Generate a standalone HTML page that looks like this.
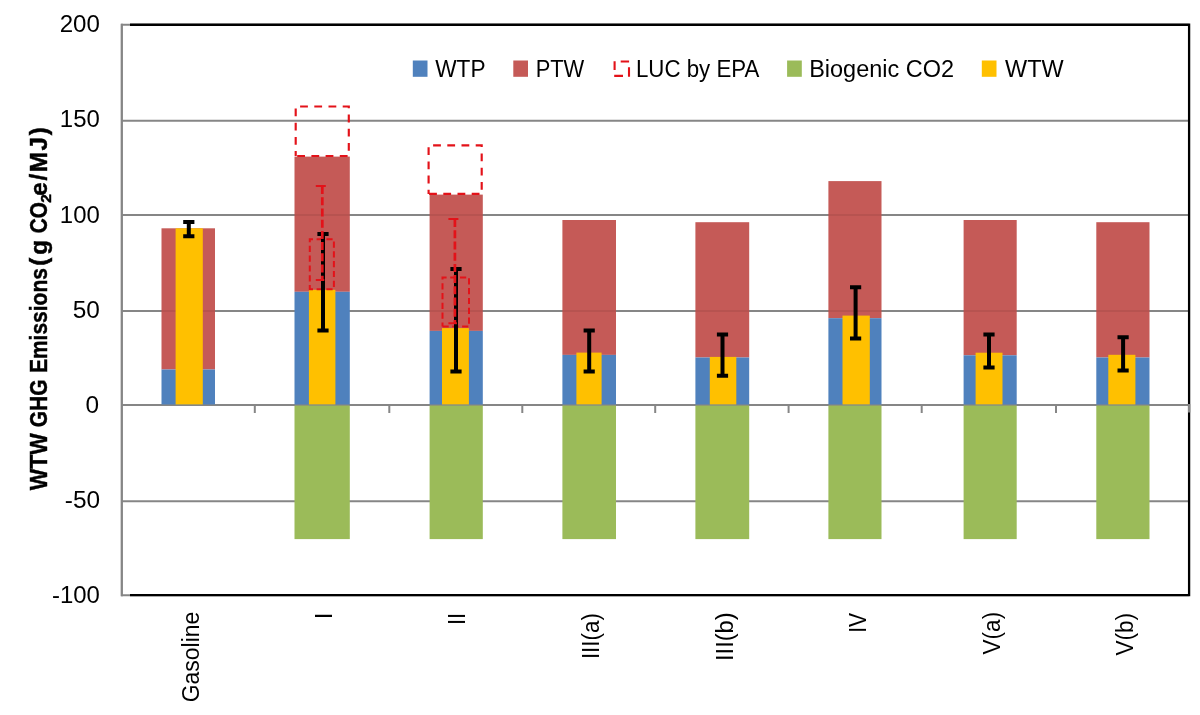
<!DOCTYPE html>
<html lang="en"><head><meta charset="utf-8"><title>WTW GHG Emissions</title>
<style>html,body{margin:0;padding:0;background:#fff;}body{width:1200px;height:715px;overflow:hidden;}svg{display:block;will-change:transform;}</style>
</head><body>
<svg width="1200" height="715" viewBox="0 0 1200 715">
<rect x="0" y="0" width="1200" height="715" fill="#ffffff"/>
<line x1="121" y1="24.75" x2="1189" y2="24.75" stroke="#868686" stroke-width="2"/>
<line x1="121" y1="120.80" x2="1189" y2="120.80" stroke="#868686" stroke-width="2"/>
<line x1="121" y1="214.90" x2="1189" y2="214.90" stroke="#868686" stroke-width="2"/>
<line x1="121" y1="311.00" x2="1189" y2="311.00" stroke="#868686" stroke-width="2"/>
<line x1="121" y1="501.20" x2="1189" y2="501.20" stroke="#868686" stroke-width="2"/>
<line x1="121" y1="595.20" x2="1189" y2="595.20" stroke="#868686" stroke-width="2"/>
<line x1="121" y1="405.00" x2="1189" y2="405.00" stroke="#868686" stroke-width="2"/>
<rect x="161.50" y="228.30" width="53.50" height="141.20" fill="#C55A57"/>
<rect x="161.50" y="369.50" width="53.50" height="34.95" fill="#4F81BD"/>
<rect x="294.50" y="156.60" width="55.30" height="135.20" fill="#C55A57"/>
<rect x="294.50" y="291.80" width="55.30" height="112.65" fill="#4F81BD"/>
<rect x="294.50" y="405.60" width="55.30" height="133.50" fill="#9BBB59"/>
<rect x="429.60" y="194.60" width="53.20" height="136.30" fill="#C55A57"/>
<rect x="429.60" y="330.90" width="53.20" height="73.55" fill="#4F81BD"/>
<rect x="429.60" y="405.60" width="53.20" height="133.50" fill="#9BBB59"/>
<rect x="562.40" y="220.00" width="53.60" height="134.90" fill="#C55A57"/>
<rect x="562.40" y="354.90" width="53.60" height="49.55" fill="#4F81BD"/>
<rect x="562.40" y="405.60" width="53.60" height="133.50" fill="#9BBB59"/>
<rect x="695.40" y="222.20" width="53.80" height="135.30" fill="#C55A57"/>
<rect x="695.40" y="357.50" width="53.80" height="46.95" fill="#4F81BD"/>
<rect x="695.40" y="405.60" width="53.80" height="133.50" fill="#9BBB59"/>
<rect x="828.40" y="181.10" width="53.10" height="137.10" fill="#C55A57"/>
<rect x="828.40" y="318.20" width="53.10" height="86.25" fill="#4F81BD"/>
<rect x="828.40" y="405.60" width="53.10" height="133.50" fill="#9BBB59"/>
<rect x="963.60" y="220.00" width="53.10" height="135.30" fill="#C55A57"/>
<rect x="963.60" y="355.30" width="53.10" height="49.15" fill="#4F81BD"/>
<rect x="963.60" y="405.60" width="53.10" height="133.50" fill="#9BBB59"/>
<rect x="1096.30" y="222.20" width="53.20" height="135.30" fill="#C55A57"/>
<rect x="1096.30" y="357.50" width="53.20" height="46.95" fill="#4F81BD"/>
<rect x="1096.30" y="405.60" width="53.20" height="133.50" fill="#9BBB59"/>
<line x1="294.50" y1="214.90" x2="349.80" y2="214.90" stroke="#000" stroke-opacity="0.07" stroke-width="2"/>
<line x1="429.60" y1="214.90" x2="482.80" y2="214.90" stroke="#000" stroke-opacity="0.07" stroke-width="2"/>
<line x1="828.40" y1="214.90" x2="881.50" y2="214.90" stroke="#000" stroke-opacity="0.07" stroke-width="2"/>
<line x1="161.50" y1="311.00" x2="215.00" y2="311.00" stroke="#000" stroke-opacity="0.07" stroke-width="2"/>
<line x1="429.60" y1="311.00" x2="482.80" y2="311.00" stroke="#000" stroke-opacity="0.07" stroke-width="2"/>
<line x1="562.40" y1="311.00" x2="616.00" y2="311.00" stroke="#000" stroke-opacity="0.07" stroke-width="2"/>
<line x1="695.40" y1="311.00" x2="749.20" y2="311.00" stroke="#000" stroke-opacity="0.07" stroke-width="2"/>
<line x1="828.40" y1="311.00" x2="881.50" y2="311.00" stroke="#000" stroke-opacity="0.07" stroke-width="2"/>
<line x1="963.60" y1="311.00" x2="1016.70" y2="311.00" stroke="#000" stroke-opacity="0.07" stroke-width="2"/>
<line x1="1096.30" y1="311.00" x2="1149.50" y2="311.00" stroke="#000" stroke-opacity="0.07" stroke-width="2"/>
<path d="M295.7 156.0V106.5H348.8V156.0Z" fill="none" stroke="#E31219" stroke-width="2.15" stroke-dasharray="7.8 6.4" stroke-dashoffset="2.9"/>
<path d="M428.6 193.9V145.3H481.7V193.9Z" fill="none" stroke="#E31219" stroke-width="2.15" stroke-dasharray="7.8 6.4" stroke-dashoffset="3.7"/>
<rect x="175.60" y="228.30" width="27.20" height="176.15" fill="#FFC000"/>
<rect x="308.90" y="289.80" width="26.50" height="114.65" fill="#FFC000"/>
<rect x="442.00" y="328.10" width="26.90" height="76.35" fill="#FFC000"/>
<rect x="576.40" y="352.60" width="25.20" height="51.85" fill="#FFC000"/>
<rect x="709.80" y="356.90" width="26.50" height="47.55" fill="#FFC000"/>
<rect x="842.50" y="315.60" width="27.30" height="88.85" fill="#FFC000"/>
<rect x="975.60" y="352.70" width="26.90" height="51.75" fill="#FFC000"/>
<rect x="1108.30" y="354.80" width="27.10" height="49.65" fill="#FFC000"/>
<path d="M309.8 289.2V239.2H333.9V289.2Z" fill="none" stroke="#E31219" stroke-width="2" stroke-dasharray="6.2 3.6" stroke-dashoffset="2"/>
<path d="M442.5 326.6V277.5H469.0V326.6Z" fill="none" stroke="#E31219" stroke-width="2" stroke-dasharray="6.2 3.6" stroke-dashoffset="2"/>
<line x1="254.80" y1="405.00" x2="254.80" y2="413.00" stroke="#868686" stroke-width="2"/>
<line x1="389.30" y1="405.00" x2="389.30" y2="413.00" stroke="#868686" stroke-width="2"/>
<line x1="522.30" y1="405.00" x2="522.30" y2="413.00" stroke="#868686" stroke-width="2"/>
<line x1="655.20" y1="405.00" x2="655.20" y2="413.00" stroke="#868686" stroke-width="2"/>
<line x1="788.60" y1="405.00" x2="788.60" y2="413.00" stroke="#868686" stroke-width="2"/>
<line x1="921.70" y1="405.00" x2="921.70" y2="413.00" stroke="#868686" stroke-width="2"/>
<line x1="1056.00" y1="405.00" x2="1056.00" y2="413.00" stroke="#868686" stroke-width="2"/>
<line x1="121.8" y1="23.75" x2="121.8" y2="596.2" stroke="#868686" stroke-width="2.3"/>
<path d="M130 24.75H1189.1V595.2H130" fill="none" stroke="#000" stroke-width="2.3"/>
<line x1="1189.1" y1="404.00" x2="1189.1" y2="412.50" stroke="#868686" stroke-width="2.3"/>
<path d="M183.20 222.00H194.40M183.20 236.20H194.40M188.80 222.00V236.20" fill="none" stroke="#000" stroke-width="4"/>
<path d="M317.40 233.90H328.60M317.40 330.60H328.60M323.00 233.90V330.60" fill="none" stroke="#000" stroke-width="4"/>
<path d="M450.40 268.90H461.60M450.40 371.50H461.60M456.00 268.90V371.50" fill="none" stroke="#000" stroke-width="4"/>
<path d="M583.60 330.50H594.80M583.60 371.60H594.80M589.20 330.50V371.60" fill="none" stroke="#000" stroke-width="4"/>
<path d="M716.90 334.60H728.10M716.90 375.80H728.10M722.50 334.60V375.80" fill="none" stroke="#000" stroke-width="4"/>
<path d="M850.00 287.30H861.20M850.00 338.40H861.20M855.60 287.30V338.40" fill="none" stroke="#000" stroke-width="4"/>
<path d="M983.40 334.50H994.60M983.40 367.50H994.60M989.00 334.50V367.50" fill="none" stroke="#000" stroke-width="4"/>
<path d="M1117.50 337.20H1128.70M1117.50 370.50H1128.70M1123.10 337.20V370.50" fill="none" stroke="#000" stroke-width="4"/>
<path d="M315.80 186.10H325.80M315.80 280.00H324.30" fill="none" stroke="#E31219" stroke-width="2"/>
<path d="M322.30 186.10V280.00" fill="none" stroke="#E31219" stroke-width="2.7" stroke-dasharray="8 3.2"/>
<path d="M448.40 219.10H458.40M448.40 323.20H456.90" fill="none" stroke="#E31219" stroke-width="2"/>
<path d="M454.90 219.10V323.20" fill="none" stroke="#E31219" stroke-width="2.7" stroke-dasharray="8 3.2"/>
<g font-family="'Liberation Sans', sans-serif" fill="#000">
<text x="59.65" y="32.10" font-size="24.4" font-weight="normal" textLength="40.17" lengthAdjust="spacingAndGlyphs">200</text>
<text x="59.85" y="127.40" font-size="24.4" font-weight="normal" textLength="39.95" lengthAdjust="spacingAndGlyphs">150</text>
<text x="59.85" y="222.70" font-size="24.4" font-weight="normal" textLength="39.95" lengthAdjust="spacingAndGlyphs">100</text>
<text x="72.70" y="317.80" font-size="24.4" font-weight="normal">50</text>
<text x="85.60" y="413.00" font-size="24.4" font-weight="normal">0</text>
<text x="64.80" y="508.00" font-size="24.4" font-weight="normal">-50</text>
<text x="52.00" y="603.30" font-size="24.4" font-weight="normal" textLength="47.94" lengthAdjust="spacingAndGlyphs">-100</text>
<text x="435.15" y="76.80" font-size="24.2" font-weight="normal" textLength="50.41" lengthAdjust="spacingAndGlyphs">WTP</text>
<text x="535.65" y="76.80" font-size="24.2" font-weight="normal" textLength="48.64" lengthAdjust="spacingAndGlyphs">PTW</text>
<text x="635.95" y="76.80" font-size="24.2" font-weight="normal" textLength="123.36" lengthAdjust="spacingAndGlyphs">LUC by EPA</text>
<text x="809.20" y="76.80" font-size="24.2" font-weight="normal" textLength="144.85" lengthAdjust="spacingAndGlyphs">Biogenic CO2</text>
<text x="1005.05" y="76.80" font-size="24.2" font-weight="normal" textLength="58.52" lengthAdjust="spacingAndGlyphs">WTW</text>
<text transform="translate(198.90,702.25) rotate(-90)" font-size="24.2" font-weight="normal" textLength="90.50" lengthAdjust="spacingAndGlyphs">Gasoline</text>
<text transform="translate(332.00,619.15) rotate(-90)" font-size="24.2" font-weight="normal">I</text>
<text transform="translate(465.10,625.00) rotate(-90)" font-size="24.2" font-weight="normal" textLength="12.26" lengthAdjust="spacingAndGlyphs">II</text>
<text transform="translate(598.90,659.10) rotate(-90)" font-size="24.2" font-weight="normal" textLength="45.95" lengthAdjust="spacingAndGlyphs">III(a)</text>
<text transform="translate(732.50,661.05) rotate(-90)" font-size="24.2" font-weight="normal" textLength="48.76" lengthAdjust="spacingAndGlyphs">III(b)</text>
<text transform="translate(865.80,632.80) rotate(-90)" font-size="24.2" font-weight="normal" textLength="19.85" lengthAdjust="spacingAndGlyphs">IV</text>
<text transform="translate(1000.00,654.45) rotate(-90)" font-size="24.2" font-weight="normal" textLength="42.64" lengthAdjust="spacingAndGlyphs">V(a)</text>
<text transform="translate(1133.30,655.55) rotate(-90)" font-size="24.2" font-weight="normal" textLength="42.69" lengthAdjust="spacingAndGlyphs">V(b)</text>
<text transform="translate(46.90,490.20) rotate(-90)" font-size="24.2" font-weight="bold" textLength="56.78" lengthAdjust="spacingAndGlyphs" stroke="#000" stroke-width="0.45">WTW</text>
<text transform="translate(46.90,427.35) rotate(-90)" font-size="24.2" font-weight="bold" textLength="48.06" lengthAdjust="spacingAndGlyphs" stroke="#000" stroke-width="0.45">GHG</text>
<text transform="translate(46.90,373.10) rotate(-90)" font-size="24.2" font-weight="bold" textLength="105.07" lengthAdjust="spacingAndGlyphs" stroke="#000" stroke-width="0.45">Emissions</text>
<text transform="translate(46.90,265.85) rotate(-90)" font-size="24.2" font-weight="bold" textLength="25.94" lengthAdjust="spacing" stroke="#000" stroke-width="0.45">(g</text>
<text transform="translate(46.90,233.15) rotate(-90)" font-size="24.2" font-weight="bold" textLength="31.14" lengthAdjust="spacingAndGlyphs" stroke="#000" stroke-width="0.45">CO</text>
<text transform="translate(51.00,202.80) rotate(-90)" font-size="15.5" font-weight="bold" stroke="#000" stroke-width="0.45">2</text>
<text transform="translate(46.90,195.70) rotate(-90)" font-size="24.2" font-weight="bold" textLength="68.43" lengthAdjust="spacing" stroke="#000" stroke-width="0.45">e/MJ)</text>
</g>
<rect x="412.80" y="60.50" width="14.70" height="16.30" fill="#4F81BD"/>
<rect x="513.30" y="60.50" width="14.70" height="16.30" fill="#C55A57"/>
<path d="M614.6 61.2V69.9M620.7 61.5H629.1M629 67.3V76.7M614.2 75.9H623" fill="none" stroke="#E31219" stroke-width="2.1"/>
<rect x="787.10" y="60.50" width="14.70" height="16.30" fill="#9BBB59"/>
<rect x="981.80" y="60.50" width="14.70" height="16.30" fill="#FFC000"/>
</svg>
</body></html>
